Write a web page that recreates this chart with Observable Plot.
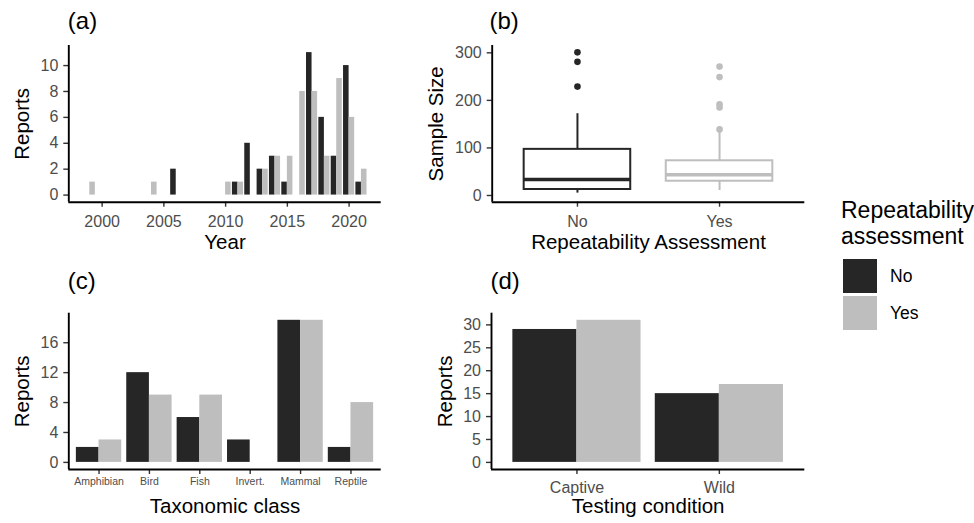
<!DOCTYPE html>
<html><head><meta charset="utf-8">
<script src="https://cdn.jsdelivr.net/npm/d3@7"></script>
<script src="https://cdn.jsdelivr.net/npm/@observablehq/plot@0.6"></script>
<style>
body{margin:0;background:#fff;font-family:"Liberation Sans",Arial,Helvetica,sans-serif;}
#wrap{position:relative;width:974px;height:523px;overflow:hidden;background:#fff;}
#legend-title{position:absolute;left:841px;top:198px;font-size:23px;line-height:25.5px;color:#000;white-space:nowrap;}
.key{position:absolute;left:843px;width:34px;height:34px;}
.keylab{position:absolute;left:890px;font-size:17.5px;line-height:20px;color:#000;}
</style></head><body><div id="wrap"></div>
<script>
// ---------- data ----------
const groups = ["No", "Yes"];
const groupColors = ["#262626", "#BEBEBE"];

// (a) reports per year
const yearsNo = [2006, 2011, 2012, 2013, 2014, 2015, 2017, 2018, 2019, 2020, 2021];
const reportsNo = [2, 1, 4, 2, 3, 1, 11, 6, 3, 10, 1];
const yearsYes = [1999, 2004, 2010, 2011, 2013, 2014, 2015, 2016, 2017, 2018, 2019, 2020, 2021];
const reportsYes = [1, 1, 1, 1, 2, 3, 3, 8, 8, 3, 9, 6, 2];
const yearTicks = [2000, 2005, 2010, 2015, 2020];
const reportTicksA = [0, 2, 4, 6, 8, 10];

// (b) sample size boxplots (summary statistics)
const boxQ1 = [12.6, 30];
const boxMedian = [33.6, 43.5];
const boxQ3 = [97, 73];
const whiskerLow = [5, 10.5];
const whiskerHigh = [172, 136];
const outliersNo = [301, 281, 229];
const outliersYes = [271, 249, 192, 185, 139];
const sampleTicks = [0, 100, 200, 300];

// (c) taxonomic class
const taxa = ["Amphibian", "Bird", "Fish", "Invert.", "Mammal", "Reptile"];
const taxaNo = [2, 12, 6, 3, 19, 2];
const taxaYes = [3, 9, 9, 0, 19, 8];
const reportTicksC = [0, 4, 8, 12, 16];

// (d) testing condition
const conditions = ["Captive", "Wild"];
const conditionNo = [29, 15];
const conditionYes = [31, 17];
const reportTicksD = [0, 5, 10, 15, 20, 25, 30];

// ---------- helpers ----------
const FONT = '"Liberation Sans", Arial, Helvetica, sans-serif';
const DODGE = 0.45;
const wrap = document.getElementById("wrap");

function dodgeRows(xs, noVals, yesVals, yesXs) {
  const rows = [];
  xs.forEach((x, i) => rows.push({g: "No", x, v: noVals[i]}));
  (yesXs || xs).forEach((x, i) => rows.push({g: "Yes", x, v: yesVals[i]}));
  return rows;
}
const barMark = rows => Plot.rect(rows, {
  x1: d => d.g === "No" ? d.x - DODGE : d.x,
  x2: d => d.g === "No" ? d.x : d.x + DODGE,
  y1: 0, y2: "v", fill: "g"
});

function axes(o) {
  return [
    Plot.axisY({ticks: o.yTicks, tickSize: 5, tickPadding: 5.5, fontSize: 16, fill: "#4D4D4D",
      stroke: "#333333", strokeWidth: 1.4, label: null, tickFormat: d => String(d)}),
    Plot.axisX({ticks: o.xTicks, tickSize: 5, tickPadding: o.xPad, fontSize: o.xFont, fill: "#4D4D4D",
      stroke: "#333333", strokeWidth: 1.4, label: null, tickFormat: o.xFormat}),
    Plot.ruleX([o.xd[0]], {stroke: "#000", strokeWidth: 1.9}),
    Plot.ruleY([o.yd[0]], {stroke: "#000", strokeWidth: 1.9}),
    Plot.text([o.xTitle], {text: d => d, frameAnchor: "bottom", textAnchor: "middle", lineAnchor: "middle",
      dy: o.xTitleDy, fontSize: 20.5, fill: "#000"}),
    Plot.text([o.yTitle], {text: d => d, frameAnchor: "left", textAnchor: "middle", lineAnchor: "middle",
      rotate: -90, dx: o.yTitleDx, fontSize: 20.5, fill: "#000"}),
    Plot.text([o.tag], {text: d => d, frameAnchor: "top-left", textAnchor: "start", lineAnchor: "middle",
      dx: o.tagDx, dy: o.tagDy, fontSize: 24, fill: "#000"})
  ];
}

function panel(o, marks) {
  const svg = Plot.plot({
    width: o.w, height: o.h,
    marginLeft: o.ml, marginRight: o.mr, marginTop: o.mt, marginBottom: o.mb,
    x: {type: "linear", domain: o.xd},
    y: {type: "linear", domain: o.yd},
    color: {domain: groups, range: groupColors},
    style: {fontFamily: FONT, background: "transparent", overflow: "visible", color: "#000"},
    marks: [...marks, ...axes(o)]
  });
  svg.style.position = "absolute";
  svg.style.left = o.left + "px";
  svg.style.top = o.top + "px";
  wrap.appendChild(svg);
}

// ---------- (a) ----------
panel({
  left: 0, top: 0, w: 400, h: 260, ml: 68.3, mr: 19.3, mt: 45, mb: 58.3,
  xd: [1997.3, 2022.6], yd: [-0.55, 11.55],
  xTicks: yearTicks, yTicks: reportTicksA, xFormat: d => String(d), xPad: 8, xFont: 16,
  xTitle: "Year", yTitle: "Reports", tag: "(a)",
  xTitleDy: 40.7, yTitleDx: -46, tagDx: -1, tagDy: -23.7
}, [barMark(dodgeRows(yearsNo, reportsNo, reportsYes, yearsYes))]);

// ---------- (b) ----------
const boxRows = groups.map((g, i) => ({g, x: i, q1: boxQ1[i], med: boxMedian[i], q3: boxQ3[i], lo: whiskerLow[i], hi: whiskerHigh[i]}));
const outRows = [
  ...outliersNo.map(v => ({g: "No", x: 0, v})),
  ...outliersYes.map(v => ({g: "Yes", x: 1, v}))
];
panel({
  left: 400, top: 0, w: 420, h: 260, ml: 91.7, mr: 15.7, mt: 45, mb: 58.3,
  xd: [-0.6, 1.6], yd: [-14.1, 315.4],
  xTicks: [0, 1], yTicks: sampleTicks, xFormat: i => groups[i], xPad: 8, xFont: 16,
  xTitle: "Repeatability Assessment", yTitle: "Sample Size", tag: "(b)",
  xTitleDy: 40.4, yTitleDx: -55.7, tagDx: -2.7, tagDy: -23.7
}, [
  Plot.ruleX(boxRows, {x: "x", y1: "lo", y2: "q1", stroke: "g", strokeWidth: 2}),
  Plot.ruleX(boxRows, {x: "x", y1: "q3", y2: "hi", stroke: "g", strokeWidth: 2}),
  Plot.rect(boxRows, {x1: d => d.x - 0.375, x2: d => d.x + 0.375, y1: "q1", y2: "q3", fill: "#fff", stroke: "g", strokeWidth: 2}),
  Plot.ruleY(boxRows, {y: "med", x1: d => d.x - 0.375, x2: d => d.x + 0.375, stroke: "g", strokeWidth: 3.6}),
  Plot.dot(outRows, {x: "x", y: "v", fill: "g", r: 3.3})
]);

// ---------- (c) ----------
const taxaIdx = taxa.map((_, i) => i);
panel({
  left: 0, top: 260, w: 400, h: 263, ml: 68.3, mr: 19.3, mt: 52.7, mb: 54,
  xd: [-0.6, taxa.length - 0.4], yd: [-0.95, 19.95],
  xTicks: taxaIdx, yTicks: reportTicksC, xFormat: i => taxa[i], xPad: 3.5, xFont: 10.5,
  xTitle: "Taxonomic class", yTitle: "Reports", tag: "(c)",
  xTitleDy: 37.4, yTitleDx: -46, tagDx: -1, tagDy: -31.4
}, [barMark(dodgeRows(taxaIdx, taxaNo, taxaYes))]);

// ---------- (d) ----------
const condIdx = conditions.map((_, i) => i);
panel({
  left: 400, top: 260, w: 420, h: 263, ml: 91, mr: 15.7, mt: 52.7, mb: 54,
  xd: [-0.6, conditions.length - 0.4], yd: [-1.55, 32.55],
  xTicks: condIdx, yTicks: reportTicksD, xFormat: i => conditions[i], xPad: 7.5, xFont: 16,
  xTitle: "Testing condition", yTitle: "Reports", tag: "(d)",
  xTitleDy: 37.4, yTitleDx: -46.3, tagDx: -1, tagDy: -31.4
}, [barMark(dodgeRows(condIdx, conditionNo, conditionYes))]);

// ---------- legend ----------
const lt = document.createElement("div");
lt.id = "legend-title";
lt.innerHTML = "Repeatability<br>assessment";
wrap.appendChild(lt);
groups.forEach((g, i) => {
  const k = document.createElement("div");
  k.className = "key";
  k.style.top = (259 + i * 37) + "px";
  k.style.background = groupColors[i];
  wrap.appendChild(k);
  const l = document.createElement("div");
  l.className = "keylab";
  l.style.top = (266 + i * 37) + "px";
  l.textContent = g;
  wrap.appendChild(l);
});
</script>
</body></html>
